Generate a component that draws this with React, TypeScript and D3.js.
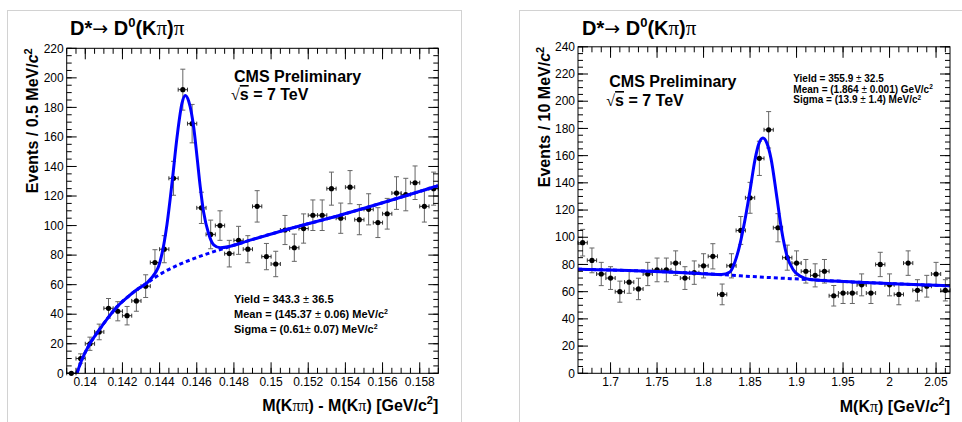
import React from "react";
import * as d3 from "d3";

const FONT = "'Liberation Sans', Arial, Helvetica, sans-serif";
const SYM = "'Liberation Serif', 'DejaVu Serif', serif";
const ARROW = "'DejaVu Sans', 'Liberation Sans', sans-serif";

// ---------- Left panel: Delta M = M(Kpipi) - M(Kpi) ----------
const leftXDomain: [number, number] = [0.139, 0.159];
const leftYDomain: [number, number] = [0, 220];
const leftBins = 40;
const leftCounts = [
  0, 10, 20, 28, 44, 42, 39, 49, 59, 75,
  84, 132, 192, 169, 112, 94, 100, 81, 90, 84,
  113, 79, 74, 97, 85, 98, 107, 107, 125, 105,
  126, 104, 111, 102, 108, 122, 121, 129, 113, 125,
];
const leftXTicks = [0.14, 0.142, 0.144, 0.146, 0.148, 0.15, 0.152, 0.154, 0.156, 0.158];
const leftYTicks = [0, 20, 40, 60, 80, 100, 120, 140, 160, 180, 200, 220];
const leftBgX = [0.13955, 0.13981, 0.14022, 0.1407, 0.14122, 0.14169, 0.14234, 0.14273, 0.14331, 0.14377, 0.14413, 0.14503, 0.14592, 0.14682, 0.14727, 0.14897, 0.15075, 0.15371, 0.15694, 0.159];
const leftBgY = [0, 9, 19.5, 28.5, 37.5, 44.8, 52.3, 56.2, 61, 65, 67.8, 73.5, 78, 82, 83.8, 90.5, 97, 107, 119, 127];
const leftFitX = [0.13955, 0.13981, 0.14022, 0.1407, 0.14122, 0.14169, 0.14234, 0.14273, 0.14331, 0.14377, 0.14395, 0.14413, 0.1444, 0.14467, 0.14494, 0.14521, 0.14538, 0.14557, 0.14584, 0.14601, 0.14619, 0.14637, 0.14664, 0.14691, 0.14727, 0.14897, 0.15075, 0.15371, 0.15694, 0.159];
const leftFitY = [0, 9, 19.5, 28.5, 37.5, 44.8, 52.3, 56.2, 61.2, 68, 72.5, 81, 101, 129, 160, 183, 188, 184, 166, 147, 126, 109, 94.5, 87, 85, 90.5, 97, 107, 119, 127];

// ---------- Right panel: M(Kpi) ----------
const rightXDomain: [number, number] = [1.665, 2.065];
const rightYDomain: [number, number] = [0, 240];
const rightBins = 40;
const rightCounts = [
  96, 83, 73, 70, 60, 67, 62, 73, 76, 76,
  81, 70, 74, 79, 86, 58, 79, 105, 129, 158,
  179, 107, 85, 81, 75, 72, 75, 57, 59, 59,
  65, 59, 80, 65, 58, 81, 61, 64, 73, 61,
];
const rightXTicks = [1.7, 1.75, 1.8, 1.85, 1.9, 1.95, 2, 2.05];
const rightYTicks = [0, 20, 40, 60, 80, 100, 120, 140, 160, 180, 200, 220, 240];
const rightBgX = [1.665, 1.72, 1.78, 1.82, 1.86, 1.91, 1.96, 2.01, 2.065];
const rightBgY = [76.5, 75.5, 74, 72.5, 70.8, 69, 67.2, 65.7, 64.3];
const rightFitX = [1.665, 1.72, 1.78, 1.8195, 1.8284, 1.8338, 1.8392, 1.8446, 1.8499, 1.8553, 1.8596, 1.8639, 1.8682, 1.8725, 1.8787, 1.884, 1.8894, 1.8965, 1.9037, 1.9145, 1.96, 2.01, 2.065];
const rightFitY = [76.5, 75.5, 74, 72.6, 74.5, 82, 95, 113, 134, 157, 169, 173, 169, 158, 130, 105, 87, 76, 71.5, 69, 67.2, 65.7, 64.3];

type Frame = { left: number; right: number; top: number; bottom: number };

type PanelProps = {
  id: string;
  frame: Frame;
  xDomain: [number, number];
  yDomain: [number, number];
  nBins: number;
  counts: number[];
  xTicks: number[];
  xMinorStep: number;
  yTicks: number[];
  yMinorStep: number;
  fitX: number[];
  fitY: number[];
  bgX: number[];
  bgY: number[];
};

function minorValues(d: [number, number], step: number) {
  const a = Math.ceil(d[0] / step - 1e-6);
  const b = Math.floor(d[1] / step + 1e-6);
  return d3.range(a, b + 1).map((i) => i * step);
}

function Panel(p: PanelProps) {
  const f = p.frame;
  const x = d3.scaleLinear().domain(p.xDomain).range([f.left, f.right]);
  const y = d3.scaleLinear().domain(p.yDomain).range([f.bottom, f.top]);
  const bw = (p.xDomain[1] - p.xDomain[0]) / p.nBins;
  const line = d3
    .line<[number, number]>()
    .x((d) => x(d[0]))
    .y((d) => y(d[1]))
    .curve(d3.curveMonotoneX);
  const fitPts = p.fitX.map((v, i) => [v, p.fitY[i]] as [number, number]);
  const bgPts = p.bgX.map((v, i) => [v, p.bgY[i]] as [number, number]);
  const xMinor = minorValues(p.xDomain, p.xMinorStep);
  const yMinor = minorValues(p.yDomain, p.yMinorStep);
  const xMaj = 11, xMin = 5.5, yMaj = 10, yMin = 5;

  return (
    <g>
      <defs>
        <clipPath id={`clip-${p.id}`}>
          <rect x={f.left} y={f.top} width={f.right - f.left} height={f.bottom - f.top} />
        </clipPath>
      </defs>
      {/* data points with error bars */}
      <g>
        {p.counts.map((c, i) => {
          const xc = p.xDomain[0] + (i + 0.5) * bw;
          const px = x(xc);
          const py = y(c);
          const err = Math.sqrt(c);
          const yt = y(c + err);
          const yb = y(Math.max(0, c - err));
          const xl = x(xc - bw / 2);
          const xr = x(xc + bw / 2);
          return (
            <g key={i}>
              {err > 0 && (
                <g stroke="#666" strokeWidth={1}>
                  <line x1={px} x2={px} y1={yt} y2={yb} />
                  <line x1={px - 2.5} x2={px + 2.5} y1={yt} y2={yt} />
                  <line x1={px - 2.5} x2={px + 2.5} y1={yb} y2={yb} />
                </g>
              )}
              <g stroke="#333" strokeWidth={1}>
                <line x1={xl} x2={xr} y1={py} y2={py} />
                <line x1={xl} x2={xl} y1={py - 2} y2={py + 2} />
                <line x1={xr} x2={xr} y1={py - 2} y2={py + 2} />
              </g>
              <circle cx={px} cy={py} r={2.6} fill="#000" />
            </g>
          );
        })}
      </g>
      {/* fit curves */}
      <g clipPath={`url(#clip-${p.id})`}>
        <path d={line(bgPts) || ""} fill="none" stroke="#0000ff" strokeWidth={3} strokeDasharray="4,3" />
        <path d={line(fitPts) || ""} fill="none" stroke="#0000ff" strokeWidth={3} />
      </g>
      {/* frame */}
      <rect x={f.left} y={f.top} width={f.right - f.left} height={f.bottom - f.top} fill="none" stroke="#000" strokeWidth={1} />
      {/* ticks */}
      <g stroke="#000" strokeWidth={1}>
        {xMinor.map((v, i) => (
          <g key={"xm" + i}>
            <line x1={x(v)} x2={x(v)} y1={f.bottom} y2={f.bottom - xMin} />
            <line x1={x(v)} x2={x(v)} y1={f.top} y2={f.top + xMin} />
          </g>
        ))}
        {p.xTicks.map((v, i) => (
          <g key={"xM" + i}>
            <line x1={x(v)} x2={x(v)} y1={f.bottom} y2={f.bottom - xMaj} />
            <line x1={x(v)} x2={x(v)} y1={f.top} y2={f.top + xMaj} />
          </g>
        ))}
        {yMinor.map((v, i) => (
          <g key={"ym" + i}>
            <line x1={f.left} x2={f.left + yMin} y1={y(v)} y2={y(v)} />
            <line x1={f.right} x2={f.right - yMin} y1={y(v)} y2={y(v)} />
          </g>
        ))}
        {p.yTicks.map((v, i) => (
          <g key={"yM" + i}>
            <line x1={f.left} x2={f.left + yMaj} y1={y(v)} y2={y(v)} />
            <line x1={f.right} x2={f.right - yMaj} y1={y(v)} y2={y(v)} />
          </g>
        ))}
      </g>
      {/* tick labels */}
      <g fontFamily={FONT} fontSize={12} fill="#000">
        {p.xTicks.map((v, i) => (
          <text key={"xl" + i} x={x(v)} y={f.bottom + 12.7} textAnchor="middle">
            {String(v)}
          </text>
        ))}
        {p.yTicks.map((v, i) => (
          <text key={"yl" + i} x={f.left - 3} y={y(v)} dy="0.35em" textAnchor="end">
            {String(v)}
          </text>
        ))}
      </g>
    </g>
  );
}

function Title({ x, y }: { x: number; y: number }) {
  return (
    <text x={x} y={y} fontFamily={FONT} fontSize={20} fontWeight="bold" fill="#000">
      D*
      <tspan fontFamily={ARROW} fontWeight="normal" fontSize={19}>→</tspan>
      <tspan> D</tspan>
      <tspan dy={-8} fontSize={13}>0</tspan>
      <tspan dy={8}>(K</tspan>
      <tspan fontFamily={SYM} fontWeight="normal" fontSize={21}>π</tspan>
      <tspan>)</tspan>
      <tspan fontFamily={SYM} fontWeight="normal" fontSize={21}>π</tspan>
    </text>
  );
}

function CmsLabel({ x, y1, y2 }: { x: number; y1: number; y2: number }) {
  return (
    <g fontFamily={FONT} fontSize={16} fontWeight="bold" fill="#000">
      <text x={x} y={y1}>CMS Preliminary</text>
      <text x={x - 3} y={y2}>
        <tspan fontFamily={SYM} fontWeight="normal">√</tspan>
        <tspan style={{ textDecoration: "overline" }}>s</tspan>
        <tspan> = 7 TeV</tspan>
      </text>
    </g>
  );
}

export default function App() {
  const lf: Frame = { left: 66.7, right: 438.3, top: 48.3, bottom: 373.3 };
  const rf: Frame = { left: 578, right: 950, top: 46.8, bottom: 373.3 };
  return (
    <svg
      width={962}
      height={422}
      viewBox="0 0 962 422"
      style={{ position: "absolute", left: 0, top: 0, background: "#fff" }}
    >
      <rect x={0} y={0} width={962} height={422} fill="#fff" />
      {/* panel borders */}
      <rect x={7.5} y={10.5} width={454} height={440} fill="none" stroke="#d2d2d2" strokeWidth={1} />
      <rect x={519.5} y={10.5} width={460} height={440} fill="none" stroke="#d2d2d2" strokeWidth={1} />

      {/* ---------------- Left panel ---------------- */}
      <Panel
        id="left"
        frame={lf}
        xDomain={leftXDomain}
        yDomain={leftYDomain}
        nBins={leftBins}
        counts={leftCounts}
        xTicks={leftXTicks}
        xMinorStep={0.0005}
        yTicks={leftYTicks}
        yMinorStep={5}
        fitX={leftFitX}
        fitY={leftFitY}
        bgX={leftBgX}
        bgY={leftBgY}
      />
      <Title x={70} y={35} />
      <text
        transform={`translate(38,${lf.top}) rotate(-90)`}
        textAnchor="end"
        fontFamily={FONT}
        fontSize={16}
        fontWeight="bold"
      >
        Events / 0.5 MeV/<tspan fontStyle="italic">c</tspan>
        <tspan dy={-6} fontSize={11}>2</tspan>
      </text>
      <text x={lf.right} y={410.7} textAnchor="end" fontFamily={FONT} fontSize={16} fontWeight="bold">
        M(K<tspan fontFamily={SYM} fontWeight="normal">ππ</tspan>) - M(K
        <tspan fontFamily={SYM} fontWeight="normal">π</tspan>) [GeV/c<tspan dy={-7} fontSize={11}>2</tspan>
        <tspan dy={7}>]</tspan>
      </text>
      <CmsLabel x={234} y1={81.7} y2={100} />
      <g fontFamily={FONT} fontSize={11} fontWeight="bold" fill="#000">
        <text x={234} y={302.5}>
          Yield = 343.3 <tspan fontWeight="normal">±</tspan> 36.5
        </text>
        <text x={234} y={317.5}>
          Mean = (145.37 <tspan fontWeight="normal">±</tspan> 0.06) MeV/c<tspan dy={-4} fontSize={7}>2</tspan>
        </text>
        <text x={234} y={332.5}>
          Sigma = (0.61<tspan fontWeight="normal">±</tspan> 0.07) MeV/c<tspan dy={-4} fontSize={7}>2</tspan>
        </text>
      </g>

      {/* ---------------- Right panel ---------------- */}
      <Panel
        id="right"
        frame={rf}
        xDomain={rightXDomain}
        yDomain={rightYDomain}
        nBins={rightBins}
        counts={rightCounts}
        xTicks={rightXTicks}
        xMinorStep={0.01}
        yTicks={rightYTicks}
        yMinorStep={5}
        fitX={rightFitX}
        fitY={rightFitY}
        bgX={rightBgX}
        bgY={rightBgY}
      />
      <Title x={582} y={35} />
      <text
        transform={`translate(550,${rf.top}) rotate(-90)`}
        textAnchor="end"
        fontFamily={FONT}
        fontSize={16}
        fontWeight="bold"
      >
        Events / 10 MeV/<tspan fontStyle="italic">c</tspan>
        <tspan dy={-6} fontSize={11}>2</tspan>
      </text>
      <text x={rf.right} y={411.7} textAnchor="end" fontFamily={FONT} fontSize={16} fontWeight="bold">
        M(K<tspan fontFamily={SYM} fontWeight="normal">π</tspan>) [GeV/<tspan fontStyle="italic">c</tspan>
        <tspan dy={-7} fontSize={11}>2</tspan>
        <tspan dy={7}>]</tspan>
      </text>
      <CmsLabel x={609.3} y1={86.7} y2={106} />
      <g fontFamily={FONT} fontSize={10} fontWeight="bold" fill="#000">
        <text x={793.3} y={82}>
          Yield = 355.9 <tspan fontWeight="normal">±</tspan> 32.5
        </text>
        <text x={793.3} y={92.5}>
          Mean = (1.864 <tspan fontWeight="normal">±</tspan> 0.001) GeV/c<tspan dy={-3.5} fontSize={6.5}>2</tspan>
        </text>
        <text x={793.3} y={103}>
          Sigma = (13.9 <tspan fontWeight="normal">±</tspan> 1.4) MeV/c<tspan dy={-3.5} fontSize={6.5}>2</tspan>
        </text>
      </g>
    </svg>
  );
}
